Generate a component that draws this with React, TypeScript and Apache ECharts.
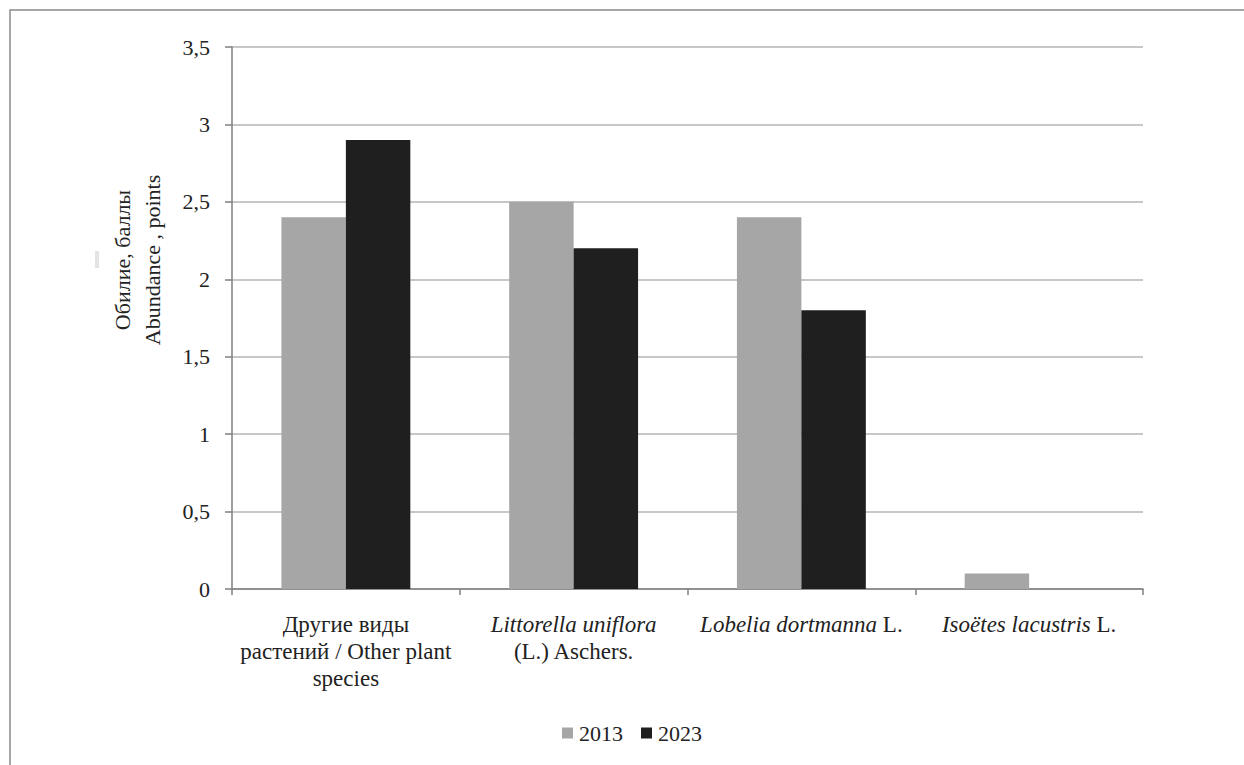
import React, { useEffect, useRef } from "react";
import * as echarts from "echarts";

const categories = [
  "Другие виды\nрастений / Other plant\nspecies",
  "{i|Littorella uniflora}\n{n|(L.) Aschers.}",
  "{i|Lobelia dortmanna}{n| L.}",
  "{i|Isoëtes lacustris}{n| L.}",
];
const series2013 = [2.4, 2.5, 2.4, 0.1];
const series2023 = [2.9, 2.2, 1.8, 0];
const seriesNames = ["2013", "2023"];
const yTitle = "Обилие, баллы\nAbundance , points";

const FONT = "Liberation Serif, Times New Roman, serif";
const TXT = "#222";

export default function App() {
  const ref = useRef<HTMLDivElement>(null);
  useEffect(() => {
    if (!ref.current) return;
    const chart = echarts.init(ref.current, null, { renderer: "svg" });
    chart.setOption({
      animation: false,
      backgroundColor: "#ffffff",
      textStyle: { fontFamily: FONT, color: TXT },
      grid: { left: 232, top: 47, right: 101, bottom: 176, containLabel: false },
      legend: {
        data: seriesNames,
        left: 557,
        top: 717,
        icon: "rect",
        itemWidth: 11,
        itemHeight: 11,
        itemGap: 18,
        textStyle: { fontFamily: FONT, fontSize: 22, color: TXT, padding: [0, 0, 0, 1] },
      },
      xAxis: {
        type: "category",
        data: categories,
        boundaryGap: true,
        axisLine: { show: true, lineStyle: { color: "#7f7f7f", width: 1.5 } },
        axisTick: { show: true, length: 6, lineStyle: { color: "#7f7f7f", width: 1.5 } },
        axisLabel: {
          interval: 0,
          margin: 22,
          fontFamily: FONT,
          fontSize: 23,
          lineHeight: 27,
          color: TXT,
          align: "center",
          rich: {
            i: { fontFamily: FONT, fontSize: 23, fontStyle: "italic", color: TXT, lineHeight: 27 },
            n: { fontFamily: FONT, fontSize: 23, color: TXT, lineHeight: 27 },
          },
        },
      },
      yAxis: {
        type: "value",
        min: 0,
        max: 3.5,
        interval: 0.5,
        axisLine: { show: true, lineStyle: { color: "#7f7f7f", width: 1.5 } },
        axisTick: { show: true, length: 7, lineStyle: { color: "#7f7f7f", width: 1.5 } },
        axisLabel: {
          margin: 22,
          fontFamily: FONT,
          fontSize: 22,
          color: TXT,
          formatter: (v: number) => String(v).replace(".", ","),
        },
        splitLine: { show: true, lineStyle: { color: "#b4b4b4", width: 1.5 } },
      },
      series: [
        {
          name: seriesNames[0],
          type: "bar",
          data: series2013,
          barGap: "0%",
          barCategoryGap: "43.4%",
          itemStyle: { color: "#a6a6a6" },
        },
        {
          name: seriesNames[1],
          type: "bar",
          data: series2023,
          barGap: "0%",
          barCategoryGap: "43.4%",
          itemStyle: { color: "#1f1f1f" },
        },
      ],
      graphic: [
        {
          type: "rect",
          shape: { x: 10, y: 10, width: 1300, height: 800 },
          style: { fill: "none", stroke: "#8a8a8a", lineWidth: 1.5 },
          silent: true,
        },
        {
          type: "rect",
          shape: { x: 95, y: 251, width: 4, height: 17 },
          style: { fill: "#e4e4e4" },
          silent: true,
        },
        {
          type: "text",
          x: 137,
          y: 260,
          rotation: Math.PI / 2,
          style: {
            text: yTitle,
            fontFamily: FONT,
            fontSize: 22,
            lineHeight: 30,
            fill: TXT,
            align: "center",
            verticalAlign: "middle",
          },
        },
      ],
    });
    return () => chart.dispose();
  }, []);
  return (
    <div
      ref={ref}
      style={{ position: "fixed", left: 0, top: 0, width: 1244, height: 765, background: "#fff" }}
    />
  );
}
